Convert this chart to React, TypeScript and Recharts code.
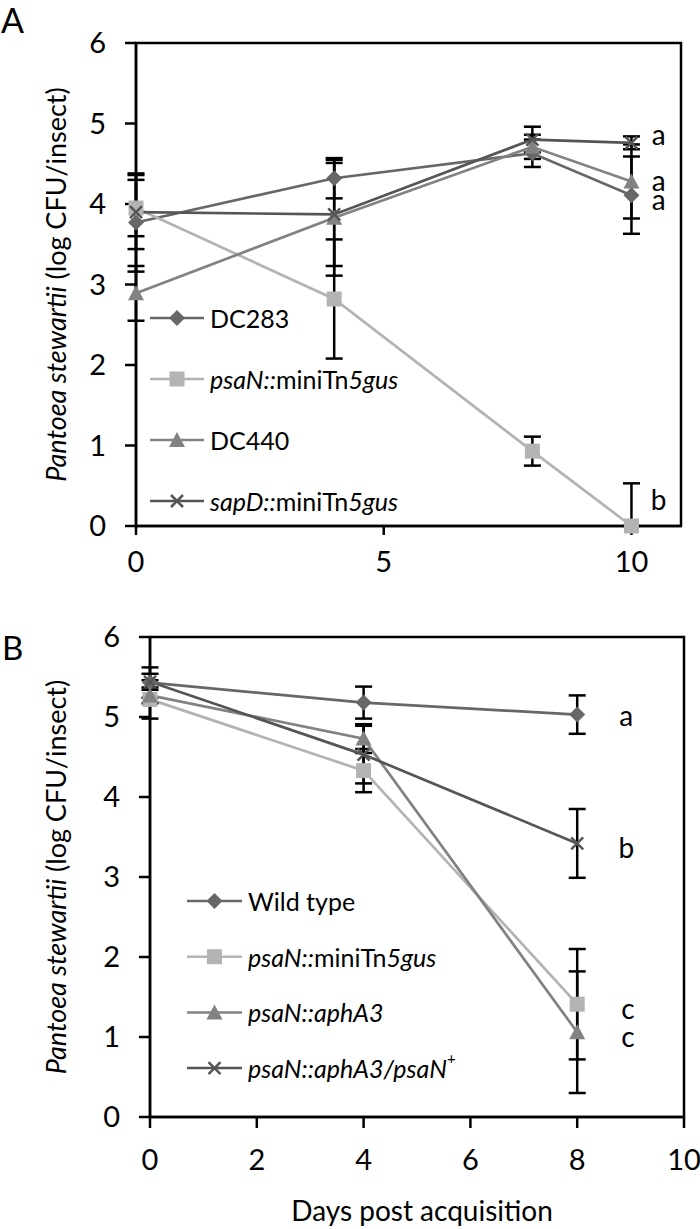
import React from "react";
import {
  LineChart,
  Line,
  XAxis,
  YAxis,
  ErrorBar,
  ReferenceArea,
  ReferenceDot,
} from "recharts";

const FONT = "Lato, 'Open Sans', sans-serif";

// panel A: days 0-10
const daysA = [0, 4, 8, 10];
const dc283A = [3.77, 4.32, 4.63, 4.11];
const dc283ErrA = [0.61, 0.25, 0.17, 0.48];
const psaNA = [3.95, 2.82, 0.93, 0];
const psaNErrA = [[0.35, 0.35], [0.74, 0.74], [0.18, 0.18], [0, 0.53]];
const dc440A = [2.89, 3.83, 4.71, 4.28];
const dc440ErrA = [0.34, 0.72, 0.15, 0.46];
const sapDA = [3.9, 3.87, 4.8, 4.76];
const sapDErrA = [0.46, 0.64, 0.16, 0.08];
const annXA = [10.55, 10.55, 10.55, 10.55];
const annYA = [4.87, 4.3, 4.06, 0.34];
const annTextA = ["a", "a", "a", "b"];

// panel B: days 0-8
const daysB = [0, 4, 8];
const wtB = [5.43, 5.18, 5.03];
const wtErrB = [0.19, 0.2, 0.24];
const psaNB = [5.22, 4.33, 1.41];
const psaNErrB = [0.24, 0.27, 0.69];
const aphB = [5.27, 4.73, 1.06];
const aphErrB = [0.1, 0.18, 0.76];
const compB = [5.44, 4.53, 3.42];
const compErrB = [0.1, 0.36, 0.43];
const annXB = [8.92, 8.92, 8.95, 8.95];
const annYB = [5.03, 3.38, 1.36, 1.01];
const annTextB = ["a", "b", "c", "c"];

const yTicks = [0, 1, 2, 3, 4, 5, 6];

const rowsA = daysA.map((d, i) => ({
  day: d,
  s0: dc283A[i], e0: dc283ErrA[i],
  s1: psaNA[i], e1: psaNErrA[i],
  s2: dc440A[i], e2: dc440ErrA[i],
  s3: sapDA[i], e3: sapDErrA[i],
}));
const rowsB = daysB.map((d, i) => ({
  day: d,
  s0: wtB[i], e0: wtErrB[i],
  s1: psaNB[i], e1: psaNErrB[i],
  s2: aphB[i], e2: aphErrB[i],
  s3: compB[i], e3: compErrB[i],
}));

type Kind = "diamond" | "square" | "triangle" | "x";
const series: { kind: Kind; color: string }[] = [
  { kind: "diamond", color: "#676767" },
  { kind: "square", color: "#b3b3b3" },
  { kind: "triangle", color: "#828282" },
  { kind: "x", color: "#555555" },
];

function Marker({ kind, cx, cy, color }: { kind: Kind; cx: number; cy: number; color: string }) {
  if (kind === "diamond")
    return <polygon points={`${cx},${cy - 8} ${cx + 8},${cy} ${cx},${cy + 8} ${cx - 8},${cy}`} fill={color} />;
  if (kind === "square") return <rect x={cx - 7.5} y={cy - 7.5} width={15} height={15} fill={color} />;
  if (kind === "triangle")
    return <polygon points={`${cx},${cy - 8} ${cx + 8},${cy + 7} ${cx - 8},${cy + 7}`} fill={color} />;
  return (
    <g stroke={color} strokeWidth={2.5}>
      <line x1={cx - 6} y1={cy - 6} x2={cx + 6} y2={cy + 6} />
      <line x1={cx - 6} y1={cy + 6} x2={cx + 6} y2={cy - 6} />
    </g>
  );
}

const tickStyle = { fill: "#000", fontSize: 29, fontFamily: FONT };
const axisLine = { stroke: "#000", strokeWidth: 2.5 };

function yLabel(props: any) {
  const vb = props.viewBox;
  const cx = vb.x + 55;
  const cy = vb.y + vb.height / 2;
  return (
    <text x={cx} y={cy} transform={`rotate(-90, ${cx}, ${cy})`} textAnchor="middle"
      dominantBaseline="central" fontSize={27} fontFamily={FONT} fill="#000">
      <tspan fontStyle="italic">Pantoea stewartii</tspan>
      <tspan> (log CFU/insect)</tspan>
    </text>
  );
}

function seriesLines() {
  return series.map((s, k) => (
    <Line key={k} dataKey={`s${k}`} stroke={s.color} strokeWidth={2.7} isAnimationActive={false}
      dot={(p: any) => <Marker key={`d${k}-${p.index}`} kind={s.kind} cx={p.cx} cy={p.cy} color={s.color} />}>
      <ErrorBar dataKey={`e${k}`} width={8.5} stroke="#000" strokeWidth={2.5} direction="y" isAnimationActive={false} />
    </Line>
  ));
}

function annotations(xs: number[], ys: number[], texts: string[]) {
  return xs.map((x, i) => (
    <ReferenceDot key={`ann${i}`} x={x} y={ys[i]} r={0} ifOverflow="visible"
      shape={(p: any) => (
        <text x={p.cx} y={p.cy} textAnchor="middle" dominantBaseline="central"
          fontSize={28} fontFamily={FONT} fill="#000">{texts[i]}</text>
      )} />
  ));
}

type Part = { t: string; i?: boolean; sup?: boolean };
const legendA: Part[][] = [
  [{ t: "DC283" }],
  [{ t: "psaN::", i: true }, { t: "miniTn" }, { t: "5gus", i: true }],
  [{ t: "DC440" }],
  [{ t: "sapD::", i: true }, { t: "miniTn" }, { t: "5gus", i: true }],
];
const legendB: Part[][] = [
  [{ t: "Wild type" }],
  [{ t: "psaN::", i: true }, { t: "miniTn" }, { t: "5gus", i: true }],
  [{ t: "psaN::aphA3", i: true }],
  [{ t: "psaN::aphA3/psaN", i: true }, { t: "+", sup: true }],
];

function LegendBox({ items, x0, x1, y0, gap }: { items: Part[][]; x0: number; x1: number; y0: number; gap: number }) {
  return (
    <g>
      {items.map((parts, k) => {
        const y = y0 + k * gap;
        const s = series[k];
        return (
          <g key={k}>
            <line x1={x0} y1={y} x2={x1} y2={y} stroke={s.color} strokeWidth={2.5} />
            <Marker kind={s.kind} cx={(x0 + x1) / 2} cy={y} color={s.color} />
            <text x={x1 + 6} y={y} dominantBaseline="central" fontSize={25} fontFamily={FONT} fill="#000">
              {parts.map((p, j) => (
                <tspan key={j} fontStyle={p.i ? "italic" : "normal"} fontSize={p.sup ? 15 : 25}
                  dy={p.sup ? -10 : 0}>{p.t}</tspan>
              ))}
            </text>
          </g>
        );
      })}
    </g>
  );
}

export default function App() {
  return (
    <div style={{ position: "absolute", left: 0, top: 0, width: 700, height: 1229, background: "#fff", fontFamily: FONT }}>
      <div style={{ position: "absolute", left: 0, top: 0 }}>
        <LineChart width={700} height={590} data={rowsA} margin={{ top: 43, right: 19, left: 0, bottom: 0 }}>
          <XAxis dataKey="day" type="number" domain={[0, 11]} ticks={[0, 5, 10]} height={64}
            tickSize={9} tickMargin={16} tick={tickStyle} axisLine={axisLine}
            tickLine={{ stroke: "#000", strokeWidth: 2.5 }} />
          <YAxis type="number" domain={[0, 6]} ticks={yTicks} width={136} tickSize={11} tickMargin={19}
            tick={tickStyle} axisLine={axisLine} tickLine={{ stroke: "#000", strokeWidth: 2.5 }}
            label={{ content: yLabel }} />
          <ReferenceArea x1={0} x2={11} y1={0} y2={6} fill="none" stroke="#000" strokeWidth={2.5} ifOverflow="visible" />
          {seriesLines()}
          {annotations(annXA, annYA, annTextA)}
        </LineChart>
      </div>
      <div style={{ position: "absolute", left: 0, top: 590 }}>
        <LineChart width={700} height={639} data={rowsB} margin={{ top: 47, right: 16, left: 0, bottom: 0 }}>
          <XAxis dataKey="day" type="number" domain={[0, 10]} ticks={[0, 2, 4, 6, 8, 10]} height={112}
            tickSize={11} tickMargin={21} tick={tickStyle} axisLine={axisLine}
            tickLine={{ stroke: "#000", strokeWidth: 2.5 }}
            label={{
              content: (p: any) => (
                <text x={p.viewBox.x + p.viewBox.width / 2 + 5} y={p.viewBox.y + 104} textAnchor="middle"
                  fontSize={28} fontFamily={FONT} fill="#000">Days post acquisition</text>
              ),
            }} />
          <YAxis type="number" domain={[0, 6]} ticks={yTicks} width={150} tickSize={11} tickMargin={19}
            tick={tickStyle} axisLine={axisLine} tickLine={{ stroke: "#000", strokeWidth: 2.5 }}
            label={{ content: yLabel }} />
          <ReferenceArea x1={0} x2={10} y1={0} y2={6} fill="none" stroke="#000" strokeWidth={2.5} ifOverflow="visible" />
          {seriesLines()}
          {annotations(annXB, annYB, annTextB)}
        </LineChart>
      </div>
      <svg width={700} height={1229} style={{ position: "absolute", left: 0, top: 0, pointerEvents: "none" }}>
        <text x={1} y={33} fontSize={34} fontFamily={FONT} fill="#000">A</text>
        <text x={2} y={660} fontSize={33} fontFamily={FONT} fill="#000">B</text>
        <LegendBox items={legendA} x0={150} x1={204} y0={318} gap={61} />
        <LegendBox items={legendB} x0={187} x1={242} y0={901} gap={55.7} />
      </svg>
    </div>
  );
}
